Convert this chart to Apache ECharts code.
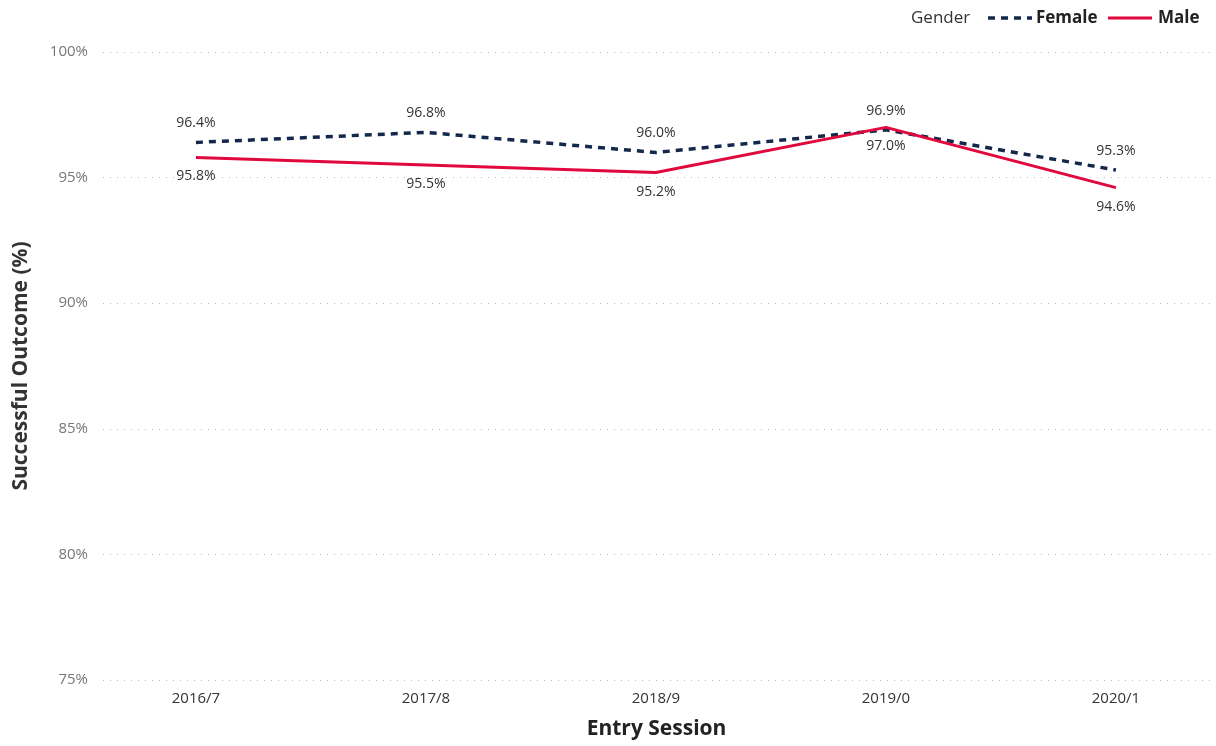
<!DOCTYPE html>
<html>
<head>
<meta charset="utf-8">
<script src="https://cdn.jsdelivr.net/npm/echarts@6/dist/echarts.min.js"></script>
<style>html,body{margin:0;padding:0;background:#fff}#c{width:1216px;height:746px}</style>
</head>
<body>
<div id="c"></div>
<script>
const categories = ['2016/7', '2017/8', '2018/9', '2019/0', '2020/1'];
const female = [96.4, 96.8, 96.0, 96.9, 95.3];
const male = [95.8, 95.5, 95.2, 97.0, 94.6];
const yTicks = [75, 80, 85, 90, 95, 100];

const FONT = '"Segoe UI", "Open Sans", "Noto Sans", sans-serif';
const NAVY = '#14284b', RED = '#e0083c';
const chart = echarts.init(document.getElementById('c'));
const pairs = arr => arr.map((v, i) => [i, v]);

chart.setOption({
  animation: false,
  textStyle: { fontFamily: FONT },
  grid: { left: 103, right: 6, top: 52, bottom: 66 },
  graphic: [
    { type: 'text', x: 911, y: 18, style: { text: 'Gender', fontFamily: FONT, fontSize: 17, fill: '#333', verticalAlign: 'middle' } },
    { type: 'line', shape: { x1: 988, y1: 18, x2: 1032, y2: 18 }, style: { stroke: NAVY, lineWidth: 3.5, lineDash: [7, 6] } },
    { type: 'text', x: 1036, y: 18, style: { text: 'Female', fontFamily: FONT, fontSize: 17, fontWeight: 'bold', fill: '#222', verticalAlign: 'middle' } },
    { type: 'line', shape: { x1: 1108, y1: 18, x2: 1152, y2: 18 }, style: { stroke: RED, lineWidth: 3 } },
    { type: 'text', x: 1158, y: 18, style: { text: 'Male', fontFamily: FONT, fontSize: 17, fontWeight: 'bold', fill: '#222', verticalAlign: 'middle' } }
  ],
  xAxis: {
    type: 'value', min: -0.404, max: 4.409,
    axisLine: { show: false }, axisTick: { show: false }, splitLine: { show: false },
    axisLabel: {
      customValues: [0, 1, 2, 3, 4],
      formatter: v => categories[Math.round(v)],
      fontSize: 15, color: '#333', margin: 11, fontFamily: FONT
    },
    name: 'Entry Session', nameLocation: 'middle', nameGap: 39,
    nameTextStyle: { fontSize: 21, fontWeight: 'bold', color: '#222', fontFamily: FONT }
  },
  yAxis: {
    type: 'value', min: 75, max: 100, interval: 5,
    axisLine: { show: false }, axisTick: { show: false },
    axisLabel: { formatter: v => yTicks.includes(v) ? v + '%' : '', fontSize: 15, color: '#777', margin: 15, fontFamily: FONT },
    splitLine: { lineStyle: { type: [1, 6], color: '#bbb', width: 1 } },
    name: 'Successful Outcome (%)', nameLocation: 'middle', nameGap: 71,
    nameTextStyle: { fontSize: 21, fontWeight: 'bold', color: '#333', fontFamily: FONT }
  },
  series: [
    {
      name: 'Female', type: 'line', data: pairs(female), symbol: 'circle', symbolSize: 0, showSymbol: true,
      lineStyle: { color: NAVY, width: 3.5, type: [7, 6] },
      itemStyle: { color: NAVY },
      label: { show: true, position: 'top', distance: 12, formatter: p => p.value[1].toFixed(1) + '%', fontSize: 14, color: '#333', fontFamily: FONT }
    },
    {
      name: 'Male', type: 'line', data: pairs(male), symbol: 'circle', symbolSize: 0, showSymbol: true,
      lineStyle: { color: RED, width: 3 },
      itemStyle: { color: RED },
      label: { show: true, position: 'bottom', distance: 12, formatter: p => p.value[1].toFixed(1) + '%', fontSize: 14, color: '#333', fontFamily: FONT }
    }
  ]
});
</script>
</body>
</html>
